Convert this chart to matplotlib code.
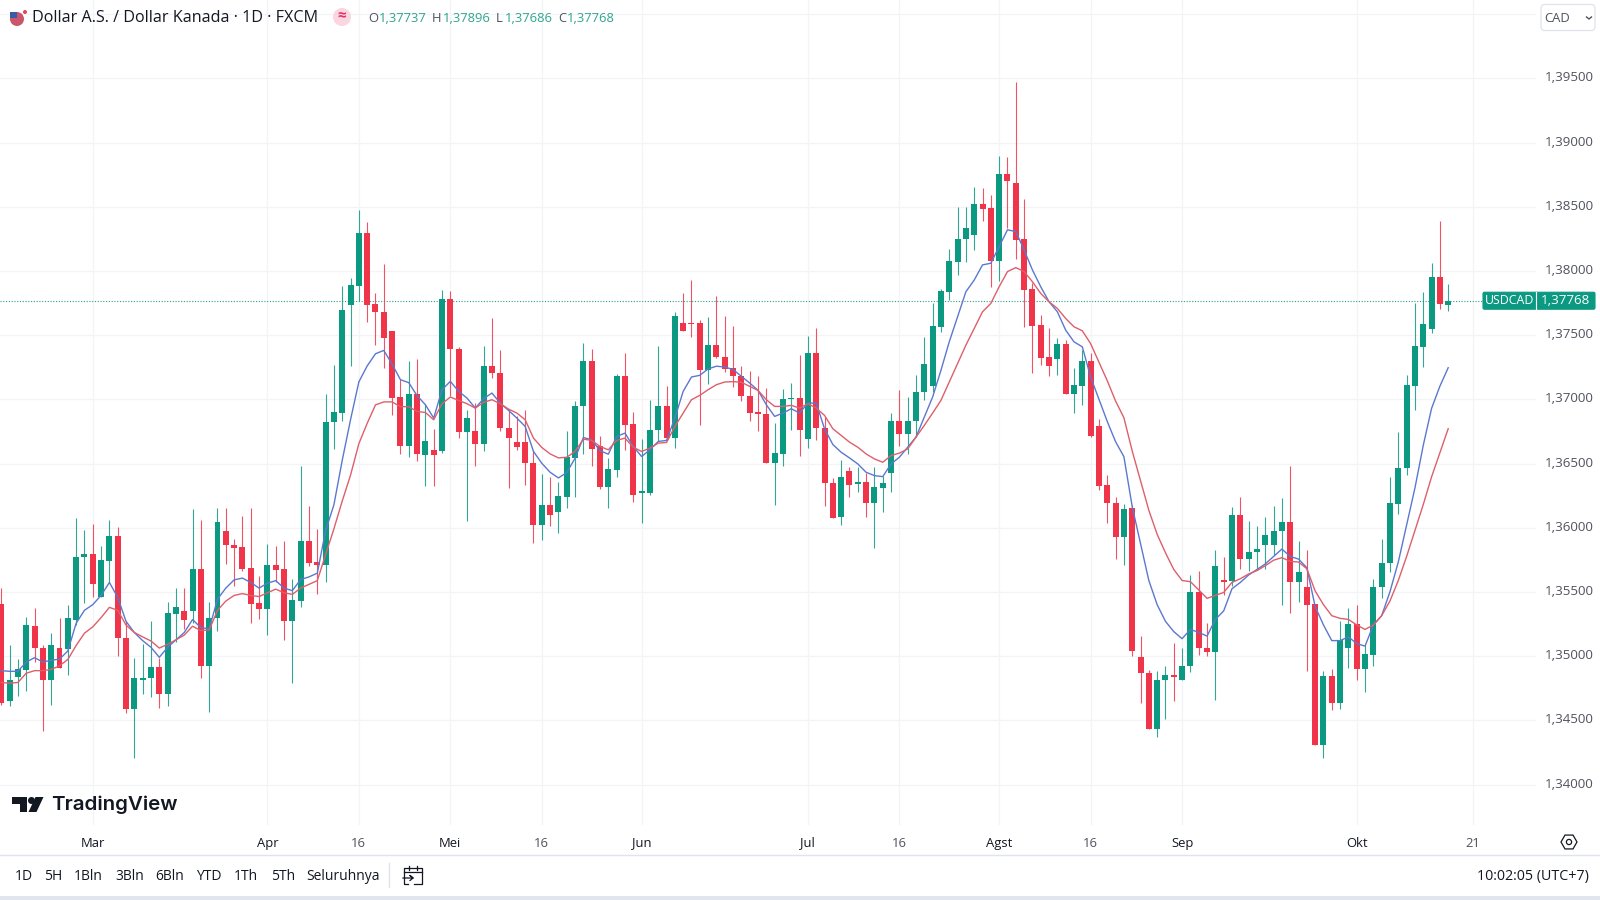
import matplotlib
matplotlib.use('Agg')
import matplotlib.pyplot as plt
import numpy as np
from matplotlib.patches import Circle, FancyBboxPatch, Polygon, Rectangle
from matplotlib.ticker import FuncFormatter
from matplotlib.transforms import ScaledTranslation

plt.rcParams['font.family'] = ['Open Sans', 'DejaVu Sans']

# USD/CAD daily quotes, in units of 0.00001
opens = [
    135409, 134651, 134838, 134896, 135236, 135066, 134818, 135063, 135055, 135285,
    135770, 135793, 135464, 135741, 135937, 135141, 134588, 134818, 134830, 134916,
    134709, 135329, 135349, 135349, 135680, 134925, 135294, 135974, 135868, 135847,
    135683, 135412, 135366, 135706, 135677, 135274, 135429, 135896, 135732, 135709,
    136822, 136894, 137736, 137886, 138295, 137742, 137684, 137534, 137015, 136634,
    137041, 136570, 136607, 136601, 137784, 137393, 136742, 136750, 136656, 137263,
    137206, 136778, 136666, 136666, 136508, 136023, 136177, 136125, 136242, 136544,
    136950, 137297, 136640, 136315, 136450, 137185, 136810, 136273, 136271, 136758,
    136950, 136698, 137591, 137591, 137591, 137232, 137427, 137328, 137245, 137185,
    137028, 136898, 136888, 136502, 136575, 137000, 137010, 136695, 137362, 136776,
    136346, 136081, 136445, 136338, 136359, 136190, 136310, 136424, 136828, 136732,
    136828, 137055, 137101, 137565, 137838, 138073, 138245, 138276, 138523, 138489,
    138081, 138758, 138685, 138247, 137859, 137578, 137331, 137318, 137430, 137044,
    137101, 137297, 136789, 136336, 136195, 135930, 136156, 134992, 134868, 134435,
    134816, 134853, 134816, 134920, 135502, 135064, 135035, 135594, 135589, 136102,
    135756, 135810, 135862, 135862, 135972, 136044, 135580, 135537, 135410, 134306,
    134848, 134637, 135061, 135254, 134897, 135012, 135540, 135724, 136188, 136462,
    137105, 137411, 137546, 137953, 137737,
]
highs = [
    135530, 135083, 134974, 135308, 135372, 135083, 135179, 135294, 135401, 136078,
    135983, 136026, 135856, 136058, 136006, 135271, 134988, 135098, 135271, 134983,
    135421, 135530, 135530, 136144, 136058, 135421, 136150, 136156, 135914, 136092,
    136156, 135625, 135876, 135856, 135896, 135602, 136482, 136173, 135992, 137044,
    137269, 137880, 137943, 138471, 138384, 137828, 138053, 137534, 137159, 137298,
    137318, 136966, 136768, 137851, 137843, 137409, 136919, 136971, 137419, 137635,
    137388, 136919, 136867, 136914, 136607, 136419, 136398, 136359, 136755, 136989,
    137440, 137393, 136716, 136541, 137198, 137357, 136898, 136690, 136997, 137419,
    137107, 137682, 137825, 137927, 137617, 137640, 137804, 137648, 137570, 137263,
    137219, 137185, 137088, 136815, 137081, 137127, 137349, 137497, 137557, 136862,
    136388, 136531, 136471, 136476, 136427, 136476, 136406, 136893, 137075, 137018,
    137187, 137482, 137747, 137857, 138169, 138495, 138495, 138653, 138646, 138588,
    138893, 138888, 139471, 138560, 137903, 137656, 137557, 137479, 137466, 137245,
    137383, 137364, 136849, 136414, 136237, 136185, 136180, 135156, 134891, 134888,
    134920, 135104, 135061, 135632, 135661, 135257, 135828, 135776, 136165, 136243,
    136050, 136012, 136084, 136171, 136229, 136482, 135900, 135825, 135410, 134882,
    134902, 135271, 135378, 135401, 135090, 135603, 135914, 136396, 136747, 137189,
    137751, 137837, 138059, 138391, 137896,
]
lows = [
    134622, 134608, 134688, 134732, 134954, 134420, 134622, 134905, 134853, 135242,
    135415, 135458, 135464, 135574, 135003, 134556, 134210, 134709, 134680, 134599,
    134608, 135112, 135213, 135256, 134833, 134564, 135199, 135718, 135545, 135666,
    135262, 135291, 135164, 135579, 135127, 134789, 135380, 135703, 135481, 135574,
    136617, 136828, 137260, 137765, 137606, 137424, 137246, 136877, 136577, 136554,
    136519, 136325, 136325, 136581, 137023, 136698, 136055, 136482, 136594, 137166,
    136750, 136310, 136607, 136333, 135885, 135904, 136013, 135961, 136151, 136242,
    136575, 136484, 136299, 136151, 136398, 136607, 136198, 136034, 136255, 136672,
    136685, 136620, 137531, 137487, 136802, 137122, 137323, 137213, 137096, 136984,
    136828, 136750, 136502, 136177, 136482, 136763, 136560, 136620, 136680, 136172,
    136075, 136023, 136237, 136276, 136081, 135841, 136120, 136276, 136640, 136575,
    136706, 136992, 137057, 137521, 137773, 137969, 138073, 138164, 138385, 137872,
    137924, 138333, 138091, 137565, 137206, 137265, 137182, 137187, 137044, 136893,
    136953, 136706, 136297, 136036, 135755, 135711, 134998, 134637, 134435, 134372,
    134507, 134652, 134816, 134876, 135012, 135003, 134660, 135473, 135545, 135675,
    135661, 135675, 135675, 135785, 135401, 135335, 135421, 134882, 134306, 134205,
    134579, 134588, 134911, 134816, 134724, 134920, 135450, 135658, 136107, 136410,
    136915, 137252, 137520, 137705, 137686,
]
closes = [
    134637, 134818, 134902, 135239, 135060, 134818, 135083, 134910, 135294, 135775,
    135793, 135559, 135747, 135937, 135141, 134588, 134833, 134830, 134916, 134709,
    135334, 135383, 135285, 135680, 134925, 135300, 136046, 135862, 135839, 135677,
    135406, 135366, 135706, 135669, 135274, 135435, 135896, 135723, 135706, 136825,
    136900, 137698, 137889, 138295, 137736, 137678, 137476, 137009, 136634, 137041,
    136577, 136677, 136570, 137784, 137390, 136742, 136851, 136656, 137263, 137203,
    136773, 136700, 136625, 136502, 136023, 136177, 136099, 136247, 136549, 136950,
    137297, 136614, 136315, 136458, 137185, 136802, 136255, 136284, 136763, 136950,
    136698, 137648, 137536, 137583, 137232, 137427, 137331, 137239, 137179, 137023,
    136896, 136883, 136502, 136581, 137005, 137010, 136763, 137362, 136778, 136346,
    136075, 136398, 136336, 136359, 136190, 136315, 136346, 136828, 136732, 136828,
    137057, 137278, 137570, 137844, 138078, 138250, 138333, 138523, 138484, 138078,
    138758, 138700, 138242, 137851, 137573, 137325, 137258, 137430, 137044, 137109,
    137297, 136716, 136328, 136190, 135930, 136146, 135041, 134868, 134435, 134816,
    134853, 134839, 134925, 135502, 135061, 135032, 135704, 135574, 136102, 135756,
    135810, 135834, 135940, 135978, 136044, 135580, 135658, 135401, 134306, 134848,
    134637, 135127, 135254, 134897, 135018, 135542, 135727, 136194, 136465, 137108,
    137413, 137584, 137953, 137742, 137768,
]
ma_fast = [
    134887, 134882, 134882, 134954, 134988, 134954, 134968, 134977, 135040, 135256,
    135357, 135401, 135473, 135574, 135458, 135271, 135184, 135121, 135069, 134991,
    135069, 135127, 135184, 135285, 135222, 135213, 135444, 135530, 135594, 135608,
    135574, 135530, 135568, 135588, 135530, 135510, 135597, 135617, 135646, 135977,
    136179, 136525, 136842, 137136, 137260, 137355, 137381, 137274, 137153, 137130,
    137029, 136958, 136854, 137075, 137140, 137062, 137010, 136932, 137005, 137049,
    136971, 136914, 136854, 136789, 136594, 136502, 136432, 136388, 136430, 136541,
    136703, 136685, 136599, 136573, 136711, 136737, 136633, 136555, 136607, 136672,
    136680, 136854, 137062, 137174, 137187, 137237, 137258, 137252, 137232, 137179,
    137127, 137070, 136958, 136867, 136893, 136927, 136893, 136971, 136971, 136771,
    136648, 136588, 136544, 136497, 136432, 136406, 136398, 136497, 136549, 136627,
    136706, 136862, 137018, 137226, 137448, 137643, 137838, 137929, 138047, 138060,
    138190, 138320, 138307, 138164, 138008, 137877, 137760, 137682, 137539, 137448,
    137409, 137174, 137001, 136828, 136670, 136554, 136165, 135877, 135589, 135401,
    135271, 135191, 135136, 135208, 135185, 135156, 135286, 135352, 135525, 135574,
    135632, 135675, 135718, 135776, 135834, 135776, 135756, 135689, 135387, 135243,
    135121, 135121, 135150, 135098, 135078, 135243, 135315, 135502, 135733, 136021,
    136309, 136641, 136929, 137102, 137246,
]
ma_slow = [
    134795, 134789, 134795, 134867, 134887, 134887, 134896, 134925, 134974, 135083,
    135179, 135228, 135300, 135380, 135357, 135242, 135184, 135150, 135118, 135063,
    135092, 135127, 135164, 135233, 135199, 135204, 135357, 135429, 135473, 135487,
    135473, 135464, 135493, 135522, 135493, 135481, 135530, 135559, 135588, 135790,
    135992, 136208, 136410, 136655, 136813, 136957, 136980, 136980, 136943, 136943,
    136905, 136898, 136841, 136966, 137018, 136992, 136966, 136932, 136976, 136997,
    136966, 136924, 136893, 136841, 136698, 136625, 136575, 136544, 136549, 136594,
    136690, 136680, 136633, 136607, 136680, 136698, 136627, 136594, 136620, 136659,
    136664, 136789, 136893, 136997, 137031, 137075, 137114, 137135, 137138, 137133,
    137101, 137070, 136997, 136945, 136945, 136953, 136932, 136966, 136932, 136875,
    136771, 136719, 136667, 136627, 136575, 136536, 136510, 136562, 136581, 136614,
    136706, 136797, 136893, 136992, 137135, 137278, 137422, 137552, 137682, 137747,
    137877, 137995, 138026, 137995, 137916, 137825, 137760, 137708, 137630, 137565,
    137534, 137434, 137289, 137145, 136987, 136857, 136598, 136367, 136136, 135949,
    135805, 135675, 135589, 135580, 135516, 135450, 135473, 135496, 135574, 135603,
    135640, 135666, 135704, 135747, 135767, 135738, 135733, 135681, 135508, 135401,
    135315, 135294, 135286, 135243, 135208, 135243, 135315, 135430, 135589, 135776,
    135978, 136180, 136396, 136583, 136771,
]

price_ticks = [1.34, 1.345, 1.35, 1.355, 1.36, 1.365, 1.37, 1.375, 1.38, 1.385, 1.39, 1.395, 1.40]
time_tick_pos = [11, 32, 43, 54, 65, 77, 97, 108, 120, 131, 142, 163, 177]
time_tick_labels = ['Mar', 'Apr', '16', 'Mei', '16', 'Jun', 'Jul', '16', 'Agst', '16', 'Sep', 'Okt', '21']
range_buttons = ['1D', '5H', '1Bln', '3Bln', '6Bln', 'YTD', '1Th', '5Th', 'Seluruhnya']
range_button_x = [15, 44, 73.5, 115, 155, 196, 234, 271, 306.5]
ohlc_labels = ['O', 'H', 'L', 'C']
ohlc_values = ['1,37737', '1,37896', '1,37686', '1,37768']
ohlc_label_x = [368, 432, 496, 558]
ohlc_value_x = [379, 443, 505, 567]

UP = '#0c9981'
DOWN = '#f0344a'
GRID = '#f3f4f6'
TEXT = '#131722'
MUTED = '#50535e'
BORDER = '#e0e3eb'

o = np.array(opens) / 1e5
h = np.array(highs) / 1e5
l = np.array(lows) / 1e5
c = np.array(closes) / 1e5
x = np.arange(len(o))
colors = np.where(c >= o, UP, DOWN)

fig = plt.figure(figsize=(16, 9), dpi=100)
fig.patch.set_facecolor('white')

# Chart pane, 1536 px wide and 825 px high
ax = fig.add_axes([0, 75 / 900, 1536 / 1600, 825 / 900])
ax.set_xlim(-0.156, 184.56)
ax.set_ylim(1.33685, 1.40110)

ax.vlines(x, l, h, colors=colors, linewidth=0.8, alpha=0.85, zorder=2)
ax.bar(x, np.abs(c - o), bottom=np.minimum(o, c), width=0.72, color=colors, linewidth=0, zorder=3)
ax.plot(x, np.array(ma_fast) / 1e5, color='#5b78cf', linewidth=1.0, zorder=4)
ax.plot(x, np.array(ma_slow) / 1e5, color='#dd5f6c', linewidth=1.0, zorder=4)

last_close = c[-1]
ax.plot([ax.get_xlim()[0], 178.1], [last_close, last_close], color='#2a9d8a', linewidth=0.8, linestyle=(0, (1, 1.5)), zorder=1)

ax.set_yticks(price_ticks)
ax.yaxis.tick_right()
ax.yaxis.set_major_formatter(FuncFormatter(lambda v, pos: '' if v > 1.399 else f'{v:.5f}'.replace('.', ',')))
ax.tick_params(axis='y', length=0, pad=6.5, labelsize=9.6, labelcolor=MUTED)
# price labels sit 2 px above their grid line
for label in ax.get_yticklabels():
    label.set_transform(label.get_transform() + ScaledTranslation(0, 0.02, fig.dpi_scale_trans))
ax.set_xticks(time_tick_pos)
ax.set_xticklabels(time_tick_labels, va='baseline')
ax.tick_params(axis='x', length=0, pad=15.5, labelsize=9.4)
for label in ax.get_xticklabels():
    label.set_color(MUTED if label.get_text().isdigit() else TEXT)
ax.grid(True, color=GRID, linewidth=0.9, zorder=0)
ax.set_axisbelow(True)
for spine in ax.spines.values():
    spine.set_visible(False)

# Overlay in pixel coordinates for the TradingView furniture
ui = fig.add_axes([0, 0, 1, 1], zorder=5)
ui.set_xlim(0, 1600)
ui.set_ylim(900, 0)
ui.axis('off')

# bottom bars
ui.plot([0, 1600], [855, 855], color=BORDER, linewidth=1.0)
ui.add_patch(Rectangle((0, 896), 1600, 4, facecolor='#e1e5ee', edgecolor='none'))
for name, bx in zip(range_buttons, range_button_x):
    ui.text(bx, 876.5, name, ha='left', va='center', fontsize=10, color=TEXT)
ui.plot([389, 389], [863, 887], color=BORDER, linewidth=1.0)
ui.text(1589, 876.5, '10:02:05 (UTC+7)', ha='right', va='center', fontsize=10.3, color=TEXT)

# calendar icon
ui.plot([408, 404, 404, 422, 422, 414], [884, 884, 868, 868, 884, 884], color=TEXT, linewidth=0.9)
ui.plot([404, 422], [872, 872], color=TEXT, linewidth=0.9)
ui.plot([409, 409], [866, 870], color=TEXT, linewidth=0.9)
ui.plot([417, 417], [866, 870], color=TEXT, linewidth=0.9)
ui.plot([403, 413, 410, 413, 410], [878, 878, 875.5, 878, 880.5], color=TEXT, linewidth=0.9)

# settings icon
hex_x = 1569 + 8 * np.cos(np.arange(6) * np.pi / 3)
hex_y = 842 + 8 * np.sin(np.arange(6) * np.pi / 3)
ui.add_patch(Polygon(np.column_stack([hex_x, hex_y]), closed=True, fill=False, edgecolor=TEXT, linewidth=0.9))
ui.add_patch(Circle((1569, 842), 2.6, fill=False, edgecolor=TEXT, linewidth=0.9))

# header
ui.add_patch(Circle((17, 19), 7, facecolor='#c9566b', edgecolor='none'))
ui.add_patch(Rectangle((10, 12), 7, 6, facecolor='#3b5aa8', edgecolor='none'))
ui.add_patch(Circle((25, 12), 2, facecolor='#e3455a', edgecolor='none'))
ui.text(32, 18, 'Dollar A.S. / Dollar Kanada · 1D · FXCM', ha='left', va='center', fontsize=11.65, color=TEXT)
ui.add_patch(Circle((342, 17), 9, facecolor='#fbd5e0', edgecolor='none'))
ui.text(342, 16.5, '≈', ha='center', va='center', fontsize=11, color='#e0345f', fontweight='bold')
for name, lx, val, vx in zip(ohlc_labels, ohlc_label_x, ohlc_values, ohlc_value_x):
    ui.text(lx, 18, name, ha='left', va='center', fontsize=9.4, color=MUTED)
    ui.text(vx, 18, val, ha='left', va='center', fontsize=9.4, color='#2ea58f')

# currency button
ui.add_patch(FancyBboxPatch((1543, 6.5), 50, 22, boxstyle='round,pad=2,rounding_size=4', facecolor='white', edgecolor=BORDER, linewidth=0.9))
ui.text(1544, 18, 'CAD', ha='left', va='center', fontsize=9.4, color=MUTED)
ui.plot([1586.5, 1589, 1591.5], [17, 19, 17], color=MUTED, linewidth=1.0)

# last price tag, placed from the last close
tag_y = (ax.get_ylim()[1] - last_close) / (ax.get_ylim()[1] - ax.get_ylim()[0]) * 825
ui.add_patch(FancyBboxPatch((1483, tag_y - 8.5), 112, 17, boxstyle='round,pad=0,rounding_size=1.5', facecolor=UP, edgecolor=UP, linewidth=0.8))
ui.plot([1536, 1536], [tag_y - 8.5, tag_y + 8.5], color='white', linewidth=0.8)
ui.text(1509.5, tag_y, 'USDCAD', ha='center', va='center', fontsize=8.9, color='white')
ui.text(1566, tag_y, f'{last_close:.5f}'.replace('.', ','), ha='center', va='center', fontsize=9.6, color='white')

# TradingView logo
ui.add_patch(Polygon([(12, 797), (27, 797), (27, 812), (20, 812), (20, 804), (12, 804)], closed=True, facecolor=TEXT, edgecolor='none'))
ui.add_patch(Circle((31.5, 800.5), 3.5, facecolor=TEXT, edgecolor='none'))
ui.add_patch(Polygon([(43.5, 797), (36.5, 812), (28.5, 812), (35.5, 797)], closed=True, facecolor=TEXT, edgecolor='none'))
ui.text(51, 804.5, 'TradingView', ha='left', va='center', fontsize=14.8, color=TEXT, fontweight='semibold', family=['Inter', 'DejaVu Sans'])

fig.savefig('out.png', dpi=100)
plt.close(fig)
